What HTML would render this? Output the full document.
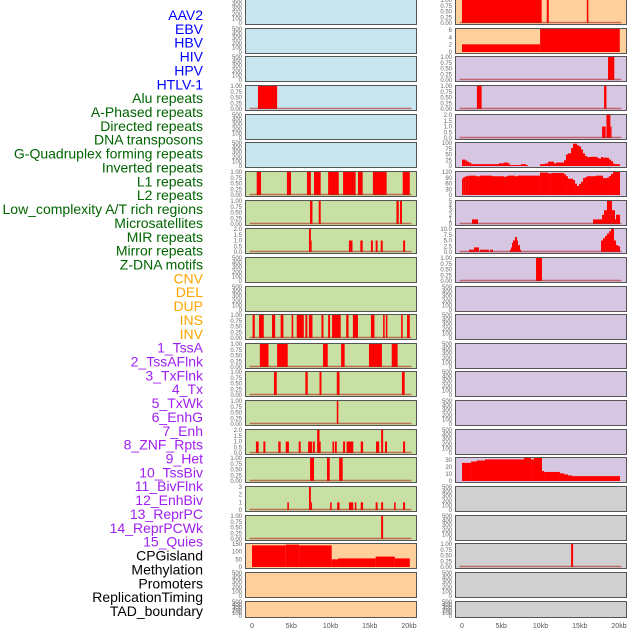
<!DOCTYPE html>
<html><head><meta charset="utf-8"><style>
html,body{margin:0;padding:0;background:#fff;width:630px;height:630px;overflow:hidden}
svg{display:block;font-family:"Liberation Sans",sans-serif}
</style></head><body>
<svg id="chart" width="630" height="630" viewBox="0 0 630 630" xmlns="http://www.w3.org/2000/svg"></svg>
<script>
// ---------- labels ----------
const labelNames = ["AAV2","EBV","HBV","HIV","HPV","HTLV-1","Alu repeats","A-Phased repeats","Directed repeats","DNA transposons","G-Quadruplex forming repeats","Inverted repeats","L1 repeats","L2 repeats","Low_complexity A/T rich regions","Microsatellites","MIR repeats","Mirror repeats","Z-DNA motifs","CNV","DEL","DUP","INS","INV","1_TssA","2_TssAFlnk","3_TxFlnk","4_Tx","5_TxWk","6_EnhG","7_Enh","8_ZNF_Rpts","9_Het","10_TssBiv","11_BivFlnk","12_EnhBiv","13_ReprPC","14_ReprPCWk","15_Quies","CPGisland","Methylation","Promoters","ReplicationTiming","TAD_boundary"];
const labelGroups = [6,13,5,15,5];
const groupColors = ["#0000ff","#006400","#ffa500","#a020f0","#000000"];

// ---------- x axis ----------
const xTicks = [0,5,10,15,20];
const xTickLabels = ["0","5kb","10kb","15kb","20kb"];

// ---------- left column data (segments: [startKb, endKb, value]) ----------
const L3_alu = [[0.76,3.2,1]];
const L6_L1 = [[0.6,1.15,1],[4.45,4.97,1],[7.0,7.5,1],[7.9,8.75,1],[9.7,11.05,1],[11.6,13.2,1],[13.5,14.1,1],[15.4,17.15,1],[19.2,20.1,1]];
const L7_lowc = [[7.4,7.7,1],[8.5,8.75,1],[18.4,18.7,1],[18.85,19.1,1]];
const L8_mir = [[7.26,7.5,2],[7.5,7.6,1],[12.35,12.8,1],[13.8,14.1,1],[15.15,15.4,1],[15.75,16.0,1],[16.4,16.65,1],[19.25,19.5,1]];
const L11_ins = [[0.08,0.35,1],[0.9,1.5,1],[2.55,2.95,1],[3.65,4.0,1],[5.05,5.25,1],[5.7,6.6,1],[6.8,7.05,1],[7.25,7.7,1],[8.85,9.1,1],[9.7,9.95,1],[10.2,11.3,1],[12.0,12.3,1],[12.85,13.5,1],[15.15,15.6,1],[16.7,16.9,1],[17.05,17.25,1],[19.0,19.2,1],[19.75,20.1,1]];
const L12_tssa = [[1.0,2.1,1],[3.2,4.55,1],[9.05,9.65,1],[11.35,11.8,1],[14.9,16.55,1],[17.8,18.55,1]];
const L13_tssaflnk = [[2.8,3.15,1],[6.8,7.1,1],[8.6,8.85,1],[10.8,11.15,1],[19.1,19.45,1]];
const L14_txflnk = [[10.8,11.0,1]];
const L15_tx = [[0.5,0.85,1],[1.45,1.7,1],[3.35,3.65,1],[4.3,4.7,1],[5.95,6.2,1],[7.15,7.65,1],[7.75,8.0,1],[8.3,8.6,2],[8.6,8.75,1],[10.25,10.45,1],[10.55,10.8,1],[11.6,11.85,1],[12.05,12.9,1],[13.85,14.15,1],[15.8,16.2,1],[16.45,16.7,2],[16.95,17.2,1],[19.25,19.5,1]];
const L16_txwk = [[7.4,7.9,1],[9.55,9.9,1],[11.1,11.55,1]];
const L17_enhg = [[4.5,4.7,1],[7.26,7.5,3],[7.5,7.65,1],[9.95,10.15,1],[10.85,11.15,1],[12.35,12.9,1],[13.1,13.3,1],[13.85,14.15,1],[15.75,16.0,1],[16.45,16.7,1],[18.1,18.3,1],[19.25,19.5,1]];
const L18_enh = [[16.45,16.7,1]];
const L19_meth = [[0,4.3,141],[4.3,6.0,146],[6.0,10.15,141],[10.15,10.95,50],[10.95,15.75,56],[15.75,18.2,68],[18.2,20.1,56]];

// ---------- right column data ----------
const R0_aav2 = [[0,10.15,1],[10.8,11.05,1],[15.9,16.1,1]];
const R1_ebv = [[0,9.95,2.1],[9.95,20.1,6.3]];
const R2_hiv = [[18.6,19.4,1]];
const R3_hpv = [[1.9,2.5,1],[18.1,18.4,1]];
const R4_htlv = [[17.85,18.3,1],[18.4,18.9,2],[18.9,19.05,1]];
const R5_edges = [0,0.42,0.68,0.93,1.19,4.71,5.35,5.86,6.11,7.52,8.15,8.41,9.94,10.57,10.96,11.72,11.97,12.99,13.25,13.5,13.89,14.14,14.65,14.9,15.16,15.41,15.67,15.92,16.43,17.2,17.45,17.71,17.96,18.73,18.98,19.24,19.49,20.13];
const R5_values = [28,24,18,14,8,12,15,11,4,8,4,0,8,11,19,11,15,25,50,55,78,97,90,85,72,55,44,39,40,36,32,39,36,28,21,10,8];
const R6_edges = [0,0.17,0.42,0.81,1.78,2.29,3.82,5.35,5.61,5.86,6.75,7.13,9.94,10.96,11.46,12.99,13.25,13.5,14.14,14.4,14.65,14.9,15.16,15.41,15.67,15.92,17.07,17.96,18.47,18.73,18.98,19.24,20.13];
const R6_values = [86,93,98,101,98,101,98,95,98,101,98,101,117,113,115,108,98,85,78,59,47,58,69,88,93,98,101,88,91,99,110,120];
const R7_edges = [0,1.27,2.04,16.69,17.83,18.09,18.47,19.1,19.49,19.62,20.13];
const R7_values = [0,1,0,1,2,3,5,3,1,2];
const R8_edges = [0,0.89,1.53,2.17,2.29,3.44,3.57,3.95,6.11,6.24,6.37,6.5,6.75,7.0,7.13,7.39,7.52,17.71,17.96,18.22,18.47,18.73,18.98,19.36,19.62,19.87,20.13];
const R8_values = [0,1,2,0,1,0,1,0,1,2,4,5,6.5,5,3,1,0,5,6,7,8,9,10,5,3,2.5];
const R9_zdna = [[9.43,10.19,1]];
const R16_edges = [0,1.15,1.91,2.93,7.9,8.8,9.17,10.19,10.45,12.48,12.99,13.5,14.01,20.13];
const R16_values = [26,28,29.5,31,33,31,33,14.5,13,11,9.5,8,7];
const R19_cpg = [[13.9,14.15,1]];

// ---------- tick sets ----------
const ticksEmpty = ["0","100","200","300","400","500"];
const ticksUnit = ["0.00","0.25","0.50","0.75","1.00"];
const ticksTwo = ["0.0","0.5","1.0","1.5","2.0"];

// colors
const BLUE="#c8e4ec", ORANGE="#ffd09c", PURPLE="#d6c6e2", GREEN="#c8e0a4", GRAY="#d0d0d0";

function hist(edges, values){ const s=[]; for(let i=0;i<values.length;i++){ if(values[i]>0) s.push([edges[i],edges[i+1],values[i]]); } return s; }

// panel specs: [row, bg, segs, ymax, tickLabels(bottom->top), baseline, name]
const leftPanels = [
 [0,BLUE,null],[1,BLUE,null],[2,BLUE,null],
 [3,BLUE,L3_alu,1,ticksUnit,true,"alu"],
 [4,BLUE,null],[5,BLUE,null],
 [6,GREEN,L6_L1,1,ticksUnit,true,"l1"],
 [7,GREEN,L7_lowc,1,ticksUnit,true,"low-complexity"],
 [8,GREEN,L8_mir,2,ticksTwo,true,"mir"],
 [9,GREEN,null],[10,GREEN,null],
 [11,GREEN,L11_ins,1,ticksUnit,true,"ins"],
 [12,GREEN,L12_tssa,1,ticksUnit,true,"tssa"],
 [13,GREEN,L13_tssaflnk,1,ticksUnit,true,"tssaflnk"],
 [14,GREEN,L14_txflnk,1,ticksUnit,true,"txflnk"],
 [15,GREEN,L15_tx,2,ticksTwo,true,"tx"],
 [16,GREEN,L16_txwk,1,ticksUnit,true,"txwk"],
 [17,GREEN,L17_enhg,3,["0","1","2","3"],true,"enhg"],
 [18,GREEN,L18_enh,1,ticksUnit,true,"enh"],
 [19,ORANGE,L19_meth,150,["0","50","100","150"],false,"methylation"],
 [20,ORANGE,null],[21,ORANGE,null]
];
const rightPanels = [
 [0,ORANGE,R0_aav2,1,ticksUnit,true,"aav2"],
 [1,ORANGE,R1_ebv,6.3,["0","2","4","6"],false,"ebv",6],
 [2,PURPLE,R2_hiv,1,ticksUnit,true,"hiv"],
 [3,PURPLE,R3_hpv,1,ticksUnit,true,"hpv"],
 [4,PURPLE,R4_htlv,2,ticksTwo,true,"htlv"],
 [5,PURPLE,hist(R5_edges,R5_values),100,["0","25","50","75","100"],false,"g-quadruplex"],
 [6,PURPLE,hist(R6_edges,R6_values),120,["0","30","60","90","120"],false,"l1-density"],
 [7,PURPLE,hist(R7_edges,R7_values),5,["0","1","2","3","4","5"],true,"low-complexity-density"],
 [8,PURPLE,hist(R8_edges,R8_values),10,["0.0","2.5","5.0","7.5","10.0"],true,"mir-density"],
 [9,PURPLE,R9_zdna,1,ticksUnit,true,"zdna"],
 [10,PURPLE,null],[11,PURPLE,null],[12,PURPLE,null],[13,PURPLE,null],[14,PURPLE,null],[15,PURPLE,null],
 [16,PURPLE,hist(R16_edges,R16_values),33,["0","10","20","30"],false,"tssbiv-density",30],
 [17,GRAY,null],[18,GRAY,null],
 [19,GRAY,R19_cpg,1,ticksUnit,true,"cpg"],
 [20,GRAY,null],[21,GRAY,null]
];

const svg=document.getElementById('chart');
const NS="http://www.w3.org/2000/svg";
function mk(tag,attrs,parent){const e=document.createElementNS(NS,tag);for(const k in attrs)e.setAttribute(k,attrs[k]);(parent||svg).appendChild(e);return e;}

// labels
let li=0;
labelGroups.forEach((n,g)=>{for(let k=0;k<n;k++){
  const t=mk('text',{x:203,y:15+li*13.86+5,'text-anchor':'end','font-size':'14',fill:groupColors[g]});
  t.textContent=labelNames[li];
  
  
  li++;}});

function rowTop(r){return Math.round(r*28.65)-1;}
function rowH(r){return r===21?16:25;}

function drawCol(panels,x0,colName){
  const px0=x0, pw=171, xs=kb=>x0+7+kb*7.85;
  panels.forEach(p=>{
    const [r,bg,segs,ymaxIn,tl,baseline,nm,tickMax]=p;
    const top=rowTop(r), h=rowH(r);
    const g=mk('g',{});
    
    
    const rect=mk('rect',{x:px0+0.5,y:top+0.5,width:pw,height:h,fill:bg,stroke:'#555','stroke-width':1},g);
    
    
    const ymax=segs?ymaxIn:500;
    const labels=segs?tl:ticksEmpty;
    const tmax=segs?(tickMax!==undefined?tickMax:ymaxIn):500;
    const ys=v=>top+h-1-v/ymax*(h-2);
    // ticks
    labels.forEach((lab,i)=>{
      const v=i*tmax/(labels.length-1);
      const t=mk('text',{x:px0-3,y:ys(v)+2,'text-anchor':'end','font-size':'6',fill:'#666'},g);
      t.textContent=lab;
      
      
    });
    if(segs){
      segs.forEach(s=>{
        const b=mk('rect',{x:xs(s[0]),y:ys(s[2]),width:Math.max(0.8,xs(s[1])-xs(s[0])),height:ys(0)-ys(s[2]),fill:'#ff0000'},g);
        
        
      });
      if(baseline){
        const l=mk('line',{x1:xs(-0.3),x2:xs(20.3),y1:ys(0)-0.5,y2:ys(0)-0.5,stroke:'#b22222','stroke-opacity':0.6,'stroke-width':1.5},g);
        
        
      }
    }
  });
  xTicks.forEach((v,i)=>{
    const t=mk('text',{x:xs(v),y:628,'text-anchor':'middle','font-size':'7',fill:'#555'});
    t.textContent=xTickLabels[i];
    
    
  });
}
drawCol(leftPanels,245,'left');
drawCol(rightPanels,455,'right');
</script>
</body></html>
